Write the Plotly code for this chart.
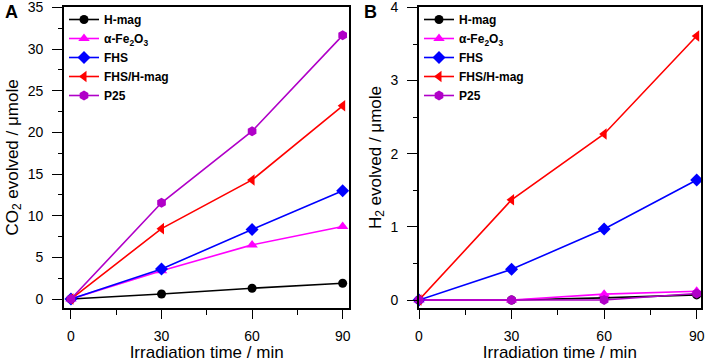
import plotly.graph_objects as go

time_min = [0, 30, 60, 90]
series_names = ["<b>H-mag</b>", "<b>α-Fe<sub>2</sub>O<sub>3</sub></b>", "<b>FHS</b>", "<b>FHS/H-mag</b>", "<b>P25</b>"]
co2_hmag = [0, 0.6, 1.3, 1.9]
co2_fe2o3 = [0, 3.4, 6.5, 8.7]
co2_fhs = [0, 3.6, 8.35, 13.0]
co2_fhs_hmag = [0, 8.45, 14.3, 23.2]
co2_p25 = [0, 11.55, 20.15, 31.65]
h2_hmag = [0, 0.0, 0.03, 0.07]
h2_fe2o3 = [0, 0.0, 0.08, 0.12]
h2_fhs = [0, 0.42, 0.97, 1.64]
h2_fhs_hmag = [0, 1.37, 2.27, 3.61]
h2_p25 = [0, 0.0, 0.0, 0.09]

colors = ["#000000", "#FF00FF", "#0000FF", "#FF0000", "#B000C8"]
symbols = ["circle", "triangle-up", "diamond", "triangle-left", "hexagon"]
sizes = [9, 10, 10, 10, 10]

W, H = 706, 362
FONT = "Arial, Liberation Sans, sans-serif"

fig = go.Figure()
co2 = [co2_hmag, co2_fe2o3, co2_fhs, co2_fhs_hmag, co2_p25]
h2 = [h2_hmag, h2_fe2o3, h2_fhs, h2_fhs_hmag, h2_p25]
for i in range(5):
    fig.add_trace(go.Scatter(x=time_min, y=co2[i], name=series_names[i], mode="lines+markers",
                             line=dict(color=colors[i], width=1.6),
                             marker=dict(symbol=symbols[i], size=sizes[i], color=colors[i]),
                             xaxis="x", yaxis="y", legend="legend", cliponaxis=False))
for i in range(5):
    fig.add_trace(go.Scatter(x=time_min, y=h2[i], name=series_names[i], mode="lines+markers",
                             line=dict(color=colors[i], width=1.6),
                             marker=dict(symbol=symbols[i], size=sizes[i], color=colors[i]),
                             xaxis="x2", yaxis="y2", legend="legend2", cliponaxis=False))

def px_x(p):
    return p / W

def px_y(p):
    return (H - p) / H

ydom = [px_y(307.7), px_y(7.3)]

common_x = dict(showline=True, linecolor="black", linewidth=1.6, mirror=True, automargin=False,
                ticks="outside", ticklen=9, tickwidth=1.4, tickcolor="black",
                tickvals=[0, 30, 60, 90], showgrid=False, zeroline=False,
                minor=dict(ticks="outside", ticklen=5, tickwidth=1.2, tickcolor="black", dtick=15, tick0=0, showgrid=False),
                tickfont=dict(family=FONT, size=14, color="black"),
                ticklabelstandoff=6, ticklabeloverflow="allow",
                title=dict(text="Irradiation time / min", font=dict(family=FONT, size=17, color="black"), standoff=5))
common_y = dict(showline=True, linecolor="black", linewidth=1.6, mirror=True, automargin=False,
                ticks="outside", ticklen=10, tickwidth=1.4, tickcolor="black",
                showgrid=False, zeroline=False,
                tickfont=dict(family=FONT, size=14, color="black"),
                ticklabelstandoff=6, ticklabeloverflow="allow")

fig.update_layout(
    width=W, height=H, margin=dict(l=0, r=0, t=0, b=0),
    paper_bgcolor="white", plot_bgcolor="white",
    font=dict(family=FONT, color="black"),
    xaxis=dict(domain=[px_x(64), px_x(349.3)], range=[-2.3, 92.2], **common_x),
    xaxis2=dict(domain=[px_x(419), px_x(700.7)], range=[0, 91.3], anchor="y2", **common_x),
    yaxis=dict(domain=ydom, range=[-1.04, 35.02], tickvals=[0, 5, 10, 15, 20, 25, 30, 35],
               minor=dict(ticks="outside", ticklen=4, tickwidth=1.2, tickcolor="black", dtick=2.5, tick0=0, showgrid=False),
               title=dict(text="CO<sub>2</sub> evolved / μmole", font=dict(family=FONT, size=17, color="black"), standoff=5),
               **common_y),
    yaxis2=dict(domain=ydom, range=[-0.105, 4.002], tickvals=[0, 1, 2, 3, 4], anchor="x2",
                minor=dict(ticks="outside", ticklen=4, tickwidth=1.2, tickcolor="black", dtick=0.5, tick0=0, showgrid=False),
                title=dict(text="H<sub>2</sub> evolved / μmole", font=dict(family=FONT, size=17, color="black"), standoff=5),
                **common_y),
    legend=dict(x=px_x(64), y=px_y(5), xanchor="left", yanchor="top", bgcolor="rgba(0,0,0,0)",
                font=dict(family=FONT, size=12, color="black"), tracegroupgap=0, itemwidth=30),
    legend2=dict(x=px_x(419), y=px_y(5), xanchor="left", yanchor="top", bgcolor="rgba(0,0,0,0)",
                 font=dict(family=FONT, size=12, color="black"), tracegroupgap=0, itemwidth=30),
    annotations=[
        dict(text="<b>A</b>", x=px_x(3), y=px_y(0), xref="paper", yref="paper", xanchor="left", yanchor="top",
             showarrow=False, font=dict(family=FONT, size=18, color="black")),
        dict(text="<b>B</b>", x=px_x(362), y=px_y(0), xref="paper", yref="paper", xanchor="left", yanchor="top",
             showarrow=False, font=dict(family=FONT, size=18, color="black")),
    ],
)

fig.write_html("out.html", config={"displayModeBar": False},
               post_script="document.body.style.margin='0';document.body.style.overflow='hidden';")
